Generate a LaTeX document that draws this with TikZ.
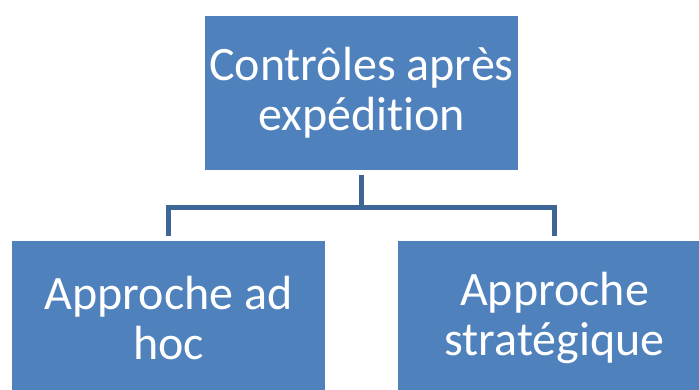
\documentclass[tikz,border=0pt]{standalone}
\usepackage{fontspec}
\setmainfont[RawFeature={-liga;-clig;-dlig}]{Carlito}
\definecolor{boxblue}{HTML}{4F81BD}
\definecolor{connblue}{HTML}{3D6596}
\begin{document}
\begin{tikzpicture}[x=1pt,y=-1pt,
  boxnode/.style={fill=boxblue,draw=none,minimum width=313pt,minimum height=154pt,
    inner sep=0pt,align=center,text=white,font=\fontsize{48}{50}\selectfont},
  conn/.style={draw=connblue,line width=5pt}]
\useasboundingbox (0,0) rectangle (699,389);
\node[boxnode] (top) at (361.5,93) {Contrôles après\\expédit\kern0pt ion};
\node[boxnode] (left) at (168.5,318) {Approche ad\\hoc};
\node[boxnode] (right) at (554.5,318) {Approche\\stratégique};
\coordinate (mid) at (361.5,207);
\draw[conn] ([yshift=-5pt]top.south) -- (mid);
\draw[conn] (mid) -| ([yshift=5pt]left.north);
\draw[conn] (mid) -| ([yshift=5pt]right.north);
\end{tikzpicture}
\end{document}
